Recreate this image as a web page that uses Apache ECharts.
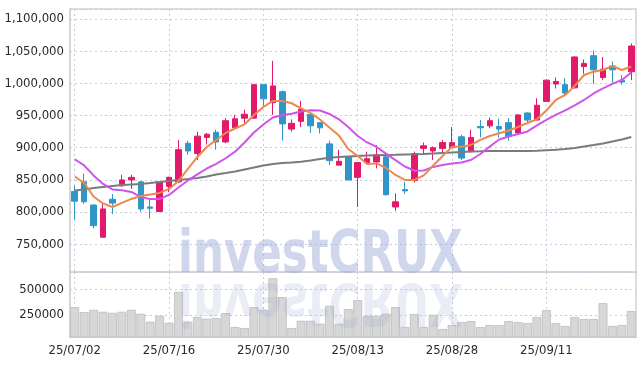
<!DOCTYPE html>
<html>
<head>
<meta charset="utf-8">
<script src="https://cdn.jsdelivr.net/npm/echarts@6/dist/echarts.min.js"></script>
<style>
html,body{margin:0;padding:0;background:#fff;}
#chart{width:644px;height:366px;}
</style>
</head>
<body>
<div id="chart"></div>
<script>
var dates = ['25/07/02','25/07/03','25/07/04','25/07/07','25/07/08','25/07/09','25/07/10','25/07/11','25/07/14','25/07/15',
'25/07/16','25/07/17','25/07/18','25/07/21','25/07/22','25/07/23','25/07/24','25/07/25','25/07/28','25/07/29',
'25/07/30','25/07/31','25/08/01','25/08/04','25/08/05','25/08/06','25/08/07','25/08/08','25/08/11','25/08/12',
'25/08/13','25/08/14','25/08/18','25/08/19','25/08/20','25/08/21','25/08/22','25/08/25','25/08/26','25/08/27',
'25/08/28','25/08/29','25/09/01','25/09/02','25/09/03','25/09/04','25/09/05','25/09/08','25/09/09','25/09/10',
'25/09/11','25/09/12','25/09/15','25/09/16','25/09/17','25/09/18','25/09/19','25/09/22','25/09/23','25/09/24'];

var opens = [832000,847000,811000,761000,820000,841000,850000,847000,808000,801000,
840000,847000,907000,891000,916000,924000,909000,931000,946000,946000,
998000,970000,987000,929000,941000,952000,939000,906000,873000,886000,
854000,877000,878000,886000,808000,835000,849000,899000,895000,899000,
900000,917000,894000,933000,934000,933000,939000,923000,954000,943000,
972000,999000,998000,993000,1026000,1043000,1009000,1027000,1005000,1018000];

var closes = [817000,816000,779000,805000,814000,850000,854000,805000,806000,847000,
854000,897000,895000,918000,921000,909000,942000,945000,952000,998000,
976000,996000,937000,938000,960000,934000,931000,880000,879000,850000,
877000,883000,889000,827000,816000,833000,891000,903000,900000,908000,
908000,884000,916000,931000,942000,929000,918000,951000,943000,966000,
1005000,1003000,985000,1041000,1031000,1021000,1022000,1021000,1002000,1058000];

var lows = [788000,813000,775000,760000,797000,839000,836000,801000,790000,800000,
831000,845000,889000,881000,905000,897000,907000,928000,938000,945000,
963000,951000,911000,925000,932000,923000,922000,873000,873000,849000,
808000,876000,868000,826000,802000,828000,846000,889000,881000,892000,
899000,881000,893000,916000,930000,916000,911000,920000,937000,943000,
971000,992000,980000,992000,1015000,999000,1005000,1001000,998000,1005000];

var highs = [841000,860000,812000,813000,828000,858000,858000,848000,822000,848000,
855000,912000,911000,925000,923000,928000,946000,951000,959000,998000,
999000,1035000,989000,944000,973000,953000,940000,911000,897000,887000,
878000,894000,904000,889000,829000,847000,894000,908000,902000,912000,
932000,920000,928000,943000,947000,945000,946000,952000,955000,977000,
1006000,1009000,1008000,1042000,1037000,1051000,1041000,1034000,1013000,1062000];

var ma5 = [855400,845300,824300,813500,808000,814300,820500,825100,827500,829800,
836000,848400,867100,885700,901200,912100,923000,929900,936200,950900,
963300,972700,972700,969100,961300,954000,943900,931500,919100,898100,
887200,874800,875600,868600,857700,850000,850000,857000,872500,887200,
901700,901700,904300,912100,918300,922500,926800,932300,938500,944200,
957900,974200,982000,996000,1013000,1018200,1020800,1027000,1020800,1026200];

var ma20 = [882100,872500,857000,843800,835200,834000,831300,823600,820200,820500,
826700,838300,849200,858500,867800,874800,883700,893900,908200,923700,
936200,947000,950500,952900,956400,958200,957900,952500,944200,932300,
918300,908200,901200,890800,880700,870900,864400,864700,870200,873300,
875600,877100,881000,890300,902000,912900,917500,921400,925300,934600,
943200,950900,957900,965700,974200,984300,992100,999100,1005300,1016900];

var ma60 = [833700,835200,837500,839100,840700,842200,843000,843800,845300,846900,
848400,850000,851500,853100,855400,858500,860800,863200,866300,869400,
872500,874800,876400,877100,878200,880300,882600,884400,885700,886500,
887200,888000,888500,888800,889100,889600,889900,890300,891100,891900,
892700,893500,894200,894500,895000,895000,895000,895000,895000,895300,
896100,896900,898100,899700,902000,904300,906700,909800,912900,916800];

var volumes = [324900,276300,298600,279200,269500,279200,298600,259700,181900,240300,
172200,473700,181900,227600,211100,217900,266500,130400,120600,324900,
298600,607000,422200,120600,191600,191600,162500,337600,162500,305500,
393000,240300,240300,259700,324900,130400,256800,130400,250000,110900,
149800,179000,188700,130400,149800,149800,188700,179000,169300,227600,
295700,169300,140100,227600,208200,208200,363800,140100,149800,286000];

var UP = '#e3196b', DOWN = '#2f96c8';
var FONT = "'DejaVu Sans Condensed','DejaVu Sans',sans-serif";
var WM_FONT = "bold 59px 'DejaVu Sans Condensed','DejaVu Sans',sans-serif";

var ohlc = dates.map(function (d, i) { return [opens[i], closes[i], lows[i], highs[i]]; });

var chart = echarts.init(document.getElementById('chart'), null, {renderer: 'canvas'});

var dotted = {type: [2, 3], color: '#c7cbe0', width: 1};
var every10 = function (idx) { return idx % 10 === 0; };

chart.setOption({
  animation: false,
  backgroundColor: '#fff',
  grid: [
    {left: 70, right: 8, top: 9, height: 263, show: true, borderColor: '#d2d2d2', borderWidth: 1.5,
     containLabel: false, outerBoundsMode: 'none'},
    {left: 70, right: 8, top: 272, height: 65, show: true, borderColor: '#d2d2d2', borderWidth: 1.5,
     containLabel: false, outerBoundsMode: 'none'}
  ],
  xAxis: [
    {
      type: 'category', gridIndex: 0, data: dates, boundaryGap: true,
      axisLine: {show: false}, axisTick: {show: false}, axisLabel: {show: false},
      splitLine: {show: true, interval: every10, alignWithLabel: true, lineStyle: dotted}
    },
    {
      type: 'category', gridIndex: 1, data: dates, boundaryGap: true,
      axisLine: {show: true, lineStyle: {color: '#d2d2d2', width: 1.5}},
      axisTick: {show: false},
      axisLabel: {show: true, interval: 9, margin: 7, color: '#2a2a2a', fontSize: 13, fontFamily: FONT},
      splitLine: {show: true, interval: every10, alignWithLabel: true, lineStyle: dotted}
    }
  ],
  yAxis: [
    {
      type: 'value', gridIndex: 0, min: 707000, max: 1115500, splitNumber: 8,
      minInterval: 50000, maxInterval: 50000,
      axisLine: {show: true, lineStyle: {color: '#d2d2d2', width: 1.5}},
      axisTick: {show: false},
      axisLabel: {
        margin: 6, color: '#2a2a2a', fontSize: 13, fontFamily: FONT,
        showMinLabel: false, showMaxLabel: false,
        formatter: function (v) { return v.toLocaleString('en-US'); }
      },
      splitLine: {show: true, lineStyle: dotted}
    },
    {
      type: 'value', gridIndex: 1, min: 33000, max: 668000, splitNumber: 2,
      minInterval: 250000, maxInterval: 250000,
      axisLine: {show: true, lineStyle: {color: '#d2d2d2', width: 1.5}},
      axisTick: {show: false},
      axisLabel: {
        margin: 6, color: '#2a2a2a', fontSize: 13, fontFamily: FONT,
        showMinLabel: false, showMaxLabel: false,
        formatter: function (v) { return String(v); }
      },
      splitLine: {show: true, lineStyle: dotted}
    }
  ],
  series: [
    {
      type: 'candlestick', name: 'price', xAxisIndex: 0, yAxisIndex: 0, data: ohlc,
      barWidth: 6, z: 3,
      itemStyle: {color: UP, color0: DOWN, borderColor: UP, borderColor0: DOWN, borderWidth: 1}
    },
    {
      type: 'line', name: 'MA60', xAxisIndex: 0, yAxisIndex: 0, data: ma60, showSymbol: false, z: 4,
      lineStyle: {color: '#7b7b7b', width: 2}
    },
    {
      type: 'line', name: 'MA20', xAxisIndex: 0, yAxisIndex: 0, data: ma20, showSymbol: false, z: 4,
      lineStyle: {color: '#cf55ea', width: 2}
    },
    {
      type: 'line', name: 'MA5', xAxisIndex: 0, yAxisIndex: 0, data: ma5, showSymbol: false, z: 4,
      lineStyle: {color: '#ef884c', width: 2}
    },
    {
      type: 'bar', name: 'volume', xAxisIndex: 1, yAxisIndex: 1, data: volumes,
      barWidth: '94%', z: 2,
      itemStyle: {color: '#d7d7d7', borderColor: '#bdbdbd', borderWidth: 0.8}
    }
  ],
  graphic: [
    {
      type: 'text', x: 178, y: 257, z: 100, silent: true, scaleX: 0.82,
      style: {text: 'investCRUX', fill: 'rgba(150,165,212,0.45)', font: WM_FONT, textAlign: 'left', textVerticalAlign: 'middle'}
    },
    {
      type: 'text', x: 178, y: 257, z: 100, silent: true, scaleX: 0.82, scaleY: -1, originX: 0, originY: 21,
      style: {text: 'investCRUX', fill: 'rgba(150,165,212,0.2)', font: WM_FONT, textAlign: 'left', textVerticalAlign: 'middle'}
    }
  ]
});
</script>
</body>
</html>
